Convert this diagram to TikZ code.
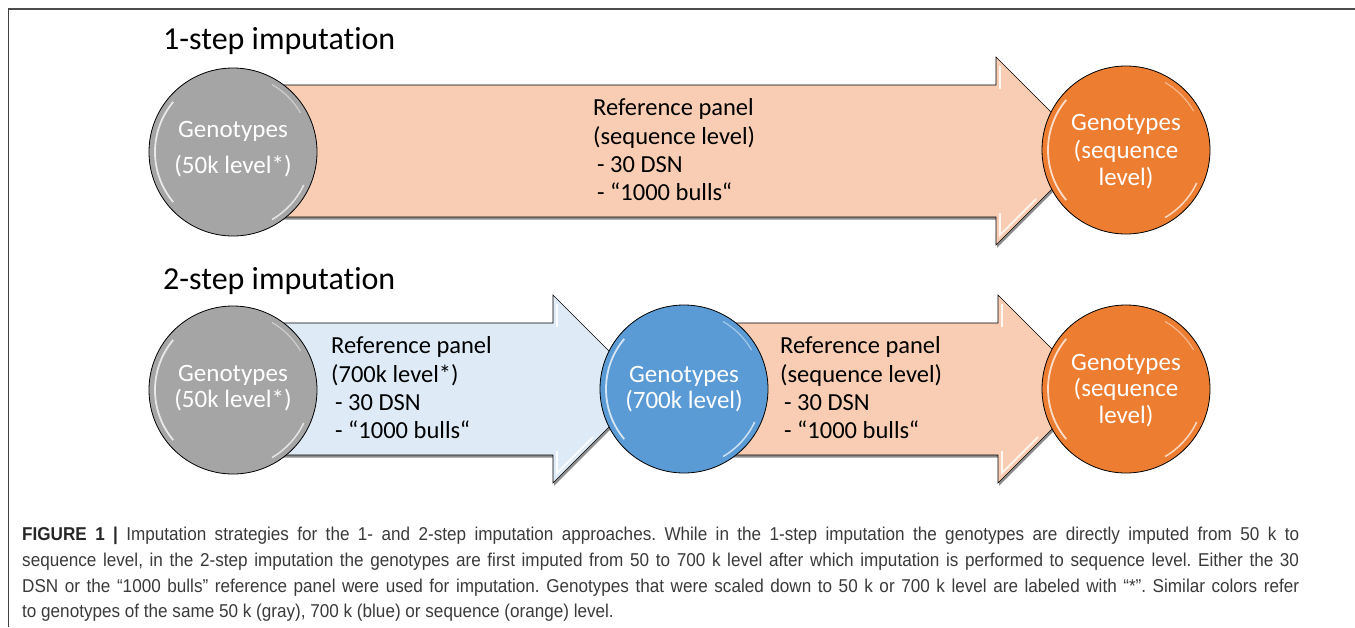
\documentclass[tikz,border=0pt]{standalone}
\usepackage{fontspec}
\setmainfont[Ligatures=NoCommon]{Carlito}
\newfontfamily\capfont[FakeStretch=0.92]{Liberation Sans}
\definecolor{gcol}{HTML}{A5A5A5}
\definecolor{ocol}{HTML}{ED7D31}
\definecolor{bcol}{HTML}{5B9BD5}
\definecolor{oarr}{HTML}{F8CDB3}
\definecolor{barr}{HTML}{DEEBF7}
\definecolor{captxt}{HTML}{3A3A3A}
\newcommand\imparrow[4]{%
  \begin{scope}[shift={(1.2,2.6)}]
    \fill[black!75,opacity=.6] ({#1},{#3-66}) -- ({#2},{#3-66}) -- ({#2},{#3-94}) -- ({#2+94},{#3}) -- ({#2},{#3+94}) -- ({#2},{#3+66}) -- ({#1},{#3+66}) -- cycle;
  \end{scope}
  \draw[fill=#4, draw=black, line width=.6pt, line join=miter] ({#1},{#3-66}) -- ({#2},{#3-66}) -- ({#2},{#3-94}) -- ({#2+94},{#3}) -- ({#2},{#3+94}) -- ({#2},{#3+66}) -- ({#1},{#3+66}) -- cycle;
  \draw[white, line width=1.6pt, opacity=.85] ({#2+4},{#3-85}) -- ({#2+4},{#3-62});
  \draw[white, line width=1.6pt, opacity=.85] ({#2+4},{#3+62}) -- ({#2+4},{#3+84}) -- ({#2+40},{#3+48});
}
\newcommand\glossy[1]{%
  \draw[white, line width=1.8pt, opacity=.75] ([shift={(140:78)}]#1.center) arc[start angle=140, end angle=220, radius=78];
  \draw[white, line width=1.5pt, opacity=.7] ([shift={(25:78)}]#1.center) arc[start angle=25, end angle=60, radius=78];
  \draw[white, line width=1.2pt, opacity=.45] ([shift={(-60:78)}]#1.center) arc[start angle=-60, end angle=-30, radius=78];
}
\tikzset{
  circ/.style={circle, draw=black, line width=.8pt, minimum size=168pt, inner sep=0pt},
  ctext/.style={font=\fontsize{25}{30}\selectfont, text=white, anchor=base, inner sep=0pt},
  atext/.style={font=\fontsize{24.5}{29}\selectfont, text=black, anchor=base west, inner sep=0pt},
  ttext/.style={font=\fontsize{32}{38}\selectfont, text=black, anchor=base west, inner sep=0pt},
  captext/.style={font=\capfont\fontsize{18.6}{22}\selectfont\frenchspacing, text=captxt, anchor=base west, inner sep=0pt}
}
\begin{document}
\begin{tikzpicture}[x=1pt,y=-1pt]
\useasboundingbox (0,0) rectangle (1355,627);
% frame
\draw[line width=1.6pt, black!70] (8,8.8) -- (1355,8.8);
\draw[line width=.9pt, black!75] (8.3,8.8) -- (8.3,627);

% titles
\node[ttext] (t1) at (163,49) {1-step imputation};
\node[ttext] (t2) at (163,289) {2-step imputation};

% arrows
\imparrow{233}{996}{151}{oarr}
\imparrow{233}{553}{389}{barr}
\imparrow{684}{998}{389}{oarr}

% circles
\node[circ, fill=gcol] (g1) at (233,152) {};
\node[circ, fill=ocol] (o1) at (1126,150) {};
\node[circ, fill=gcol] (g2) at (233,390) {};
\node[circ, fill=bcol] (b2) at (684,389) {};
\node[circ, fill=ocol] (o2) at (1126,389) {};
\glossy{g1}\glossy{o1}\glossy{g2}\glossy{b2}\glossy{o2}

% circle texts
\node[ctext] (g1a) at (233,137) {Genotypes};
\node[ctext] (g1b) at (233,173) {(50k level*)};
\node[ctext] (o1a) at (1126,130) {Genotypes};
\node[ctext] (o1b) at (1126,158) {(sequence};
\node[ctext] (o1c) at (1126,185) {level)};
\node[ctext] (g2a) at (233,381) {Genotypes};
\node[ctext] (g2b) at (233,407) {(50k level*)};
\node[ctext] (b2a) at (684,382) {Genotypes};
\node[ctext] (b2b) at (684,408) {(700k level)};
\node[ctext] (o2a) at (1126,370) {Genotypes};
\node[ctext] (o2b) at (1126,396) {(sequence};
\node[ctext] (o2c) at (1126,423) {level)};

% arrow texts
\node[atext] (r1a) at (593,115) {Reference panel};
\node[atext] (r1b) at (593,144) {(sequence level)};
\node[atext] (r1c) at (597,172) {- 30 DSN};
\node[atext] (r1d) at (597,200) {- “1000 bulls“};
\node[atext] (r2a) at (331,353) {Reference panel};
\node[atext] (r2b) at (331,382) {(700k level*)};
\node[atext] (r2c) at (335,410) {- 30 DSN};
\node[atext] (r2d) at (335,438) {- “1000 bulls“};
\node[atext] (r3a) at (780,353) {Reference panel};
\node[atext] (r3b) at (780,382) {(sequence level)};
\node[atext] (r3c) at (784,410) {- 30 DSN};
\node[atext] (r3d) at (784,438) {- “1000 bulls“};

% caption
\node[captext] (c1) at (22,540) {\makebox[1277pt][s]{\textbf{\color{black!85}FIGURE 1 |} Imputation strategies for the 1- and 2-step imputation approaches. While in the 1-step imputation the genotypes are directly imputed from 50 k to}};
\node[captext] (c2) at (22,566) {\makebox[1277pt][s]{sequence level, in the 2-step imputation the genotypes are first imputed from 50 to 700 k level after which imputation is performed to sequence level. Either the 30}};
\node[captext] (c3) at (22,592) {\makebox[1277pt][s]{DSN or the “1000 bulls” reference panel were used for imputation. Genotypes that were scaled down to 50 k or 700 k level are labeled with “*”. Similar colors refer}};
\node[captext] (c4) at (22,617) {to genotypes of the same 50 k (gray), 700 k (blue) or sequence (orange) level.};
\end{tikzpicture}
\end{document}
